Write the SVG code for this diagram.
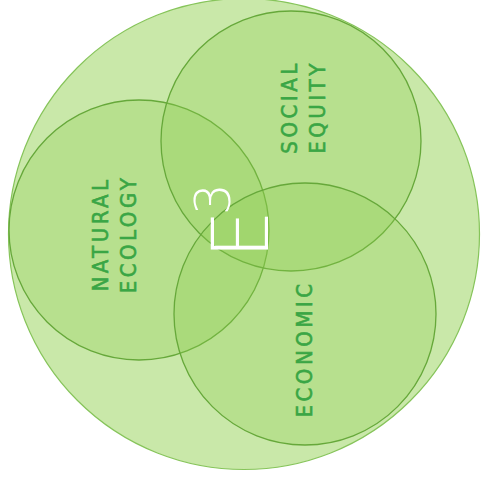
<svg xmlns="http://www.w3.org/2000/svg" width="481" height="480" viewBox="0 0 481 480">
  <style>
    .outer { fill: #c9e8a9; stroke: #86c45a; stroke-width: 1.2; }
    .ring { fill: #8fcc50; fill-opacity: 0.3; stroke: #66a83a; stroke-width: 1.3; }
    .label { font-family: "DejaVu Sans Condensed", "DejaVu Sans", sans-serif; font-size: 22px; fill: #3aa645; stroke: #3aa645; stroke-width: 0.6; letter-spacing: 3.5px; text-anchor: middle; }
    .mark { font-family: "DejaVu Sans", sans-serif; font-weight: 200; fill: #ffffff; }
  </style>
  <rect width="481" height="480" fill="#ffffff"/>

  <!-- enclosing circle -->
  <g id="whole">
    <circle class="outer" cx="244" cy="234" r="235.5"/>
  </g>

  <!-- three overlapping spheres -->
  <g id="natural-ecology">
    <circle class="ring" cx="139" cy="230" r="130"/>
    <text class="label" transform="translate(107.5,234) rotate(-90)">NATURAL</text>
    <text class="label" transform="translate(135.5,234) rotate(-90)">ECOLOGY</text>
  </g>
  <g id="social-equity">
    <circle class="ring" cx="291" cy="141" r="130"/>
    <text class="label" transform="translate(296.5,107) rotate(-90)">SOCIAL</text>
    <text class="label" transform="translate(324.5,107) rotate(-90)">EQUITY</text>
  </g>
  <g id="economic">
    <circle class="ring" cx="305" cy="314" r="131"/>
    <text class="label" transform="translate(311.5,349) rotate(-90)">ECONOMIC</text>
  </g>

  <!-- centre mark -->
  <g id="e-cubed">
    <text class="mark" font-size="78" transform="translate(268,259) rotate(-90)">E</text>
    <text class="mark" font-size="50" transform="translate(230,215) rotate(-90)">3</text>
  </g>
</svg>
